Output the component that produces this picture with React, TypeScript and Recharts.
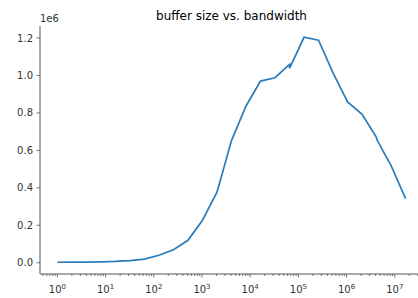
import React from 'react';
import { LineChart, Line, XAxis, YAxis } from 'recharts';

// buffer size in bytes (powers of two) and measured bandwidth
const bufferSizes = [
  1, 2, 4, 8, 16, 32, 64, 128, 256, 512, 1024, 2048, 4096, 8192, 16384, 32768,
  65536, 65536, 131072, 262144, 524288, 1048576, 2097152, 4194304, 4194304, 8388608, 16777216,
];
const bandwidth = [
  2500, 3000, 3500, 5000, 7000, 11000, 19000, 40000, 69000, 120000, 227000, 377000, 652000, 837000, 970000, 988000,
  1059000, 1038000, 1204000, 1188000, 1014000, 859000, 793000, 669000, 660000, 519000, 342000,
];

const majorTicks = [1, 10, 100, 1000, 10000, 100000, 1000000, 10000000];
const tickExponents = ['0', '1', '2', '3', '4', '5', '6', '7'];
const yTicks = [0, 200000, 400000, 600000, 800000, 1000000, 1200000];

const data = bufferSizes.map((size, i) => ({ size, bw: bandwidth[i] }));

const X_DOMAIN: [number, number] = [0.4355, 38540000];
const minorTicks: number[] = [];
for (let d = 0.1; d <= 1e7; d *= 10) {
  for (let m = 2; m <= 9; m++) {
    const v = Math.round(d * m * 1e6) / 1e6;
    if (v >= X_DOMAIN[0] && v <= X_DOMAIN[1]) minorTicks.push(v);
  }
}
const allTicks = [...majorTicks, ...minorTicks].sort((a, b) => a - b);

const FONT = '"DejaVu Sans", sans-serif';
const AXIS = '#555';
const TEXT = '#333';

const LogTick = (props: any) => {
  const { x, y, payload } = props;
  const idx = majorTicks.indexOf(payload.value);
  if (idx < 0) {
    return <line x1={x} x2={x} y1={y} y2={y + 2} stroke={AXIS} strokeWidth={0.8} />;
  }
  return (
    <g>
      <line x1={x} x2={x} y1={y} y2={y + 3.5} stroke={AXIS} strokeWidth={0.8} />
      <text x={x} y={y + 19} textAnchor="middle" fontSize={10} fill={TEXT} fontFamily={FONT}>
        10
        <tspan dy={-4.5} fontSize={7}>{tickExponents[idx]}</tspan>
      </text>
    </g>
  );
};

export default function App() {
  return (
    <div style={{ position: 'absolute', left: 0, top: 0, width: 418, height: 298, overflow: 'hidden', background: '#fff' }}>
      <LineChart width={430} height={298} data={data} margin={{ top: 26, right: 7, bottom: 0, left: 0 }}>
        <XAxis
          dataKey="size"
          type="number"
          scale="log"
          domain={X_DOMAIN}
          allowDataOverflow
          ticks={allTicks}
          interval={0}
          tick={<LogTick />}
          tickLine={false}
          tickSize={0}
          tickMargin={0}
          height={24}
          axisLine={{ stroke: AXIS, strokeWidth: 1 }}
        />
        <XAxis
          xAxisId="top"
          orientation="top"
          type="number"
          domain={[0, 1]}
          height={0}
          tick={false}
          tickLine={false}
          axisLine={{ stroke: AXIS, strokeWidth: 1 }}
        />
        <YAxis
          type="number"
          domain={[-60200, 1264200]}
          allowDataOverflow
          ticks={yTicks}
          interval={0}
          width={40}
          tickSize={3.5}
          tickMargin={3.5}
          tickLine={{ stroke: AXIS, strokeWidth: 0.8 }}
          axisLine={{ stroke: AXIS, strokeWidth: 1 }}
          tick={{ fontSize: 10, fill: TEXT, fontFamily: FONT }}
          tickFormatter={(v: number) => (v / 1e6).toFixed(1)}
        />
        <Line
          type="linear"
          dataKey="bw"
          stroke="#2a7dba"
          strokeWidth={1.7}
          dot={false}
          isAnimationActive={false}
        />
      </LineChart>
      <svg width={418} height={298} style={{ position: 'absolute', left: 0, top: 0, pointerEvents: 'none' }}>
        <text x={40} y={21.5} fontSize={10} fill={TEXT} fontFamily={FONT}>1e6</text>
        <text x={231.5} y={19.5} fontSize={12} fill="#000" textAnchor="middle" fontFamily={FONT}>
          buffer size vs. bandwidth
        </text>
      </svg>
    </div>
  );
}
